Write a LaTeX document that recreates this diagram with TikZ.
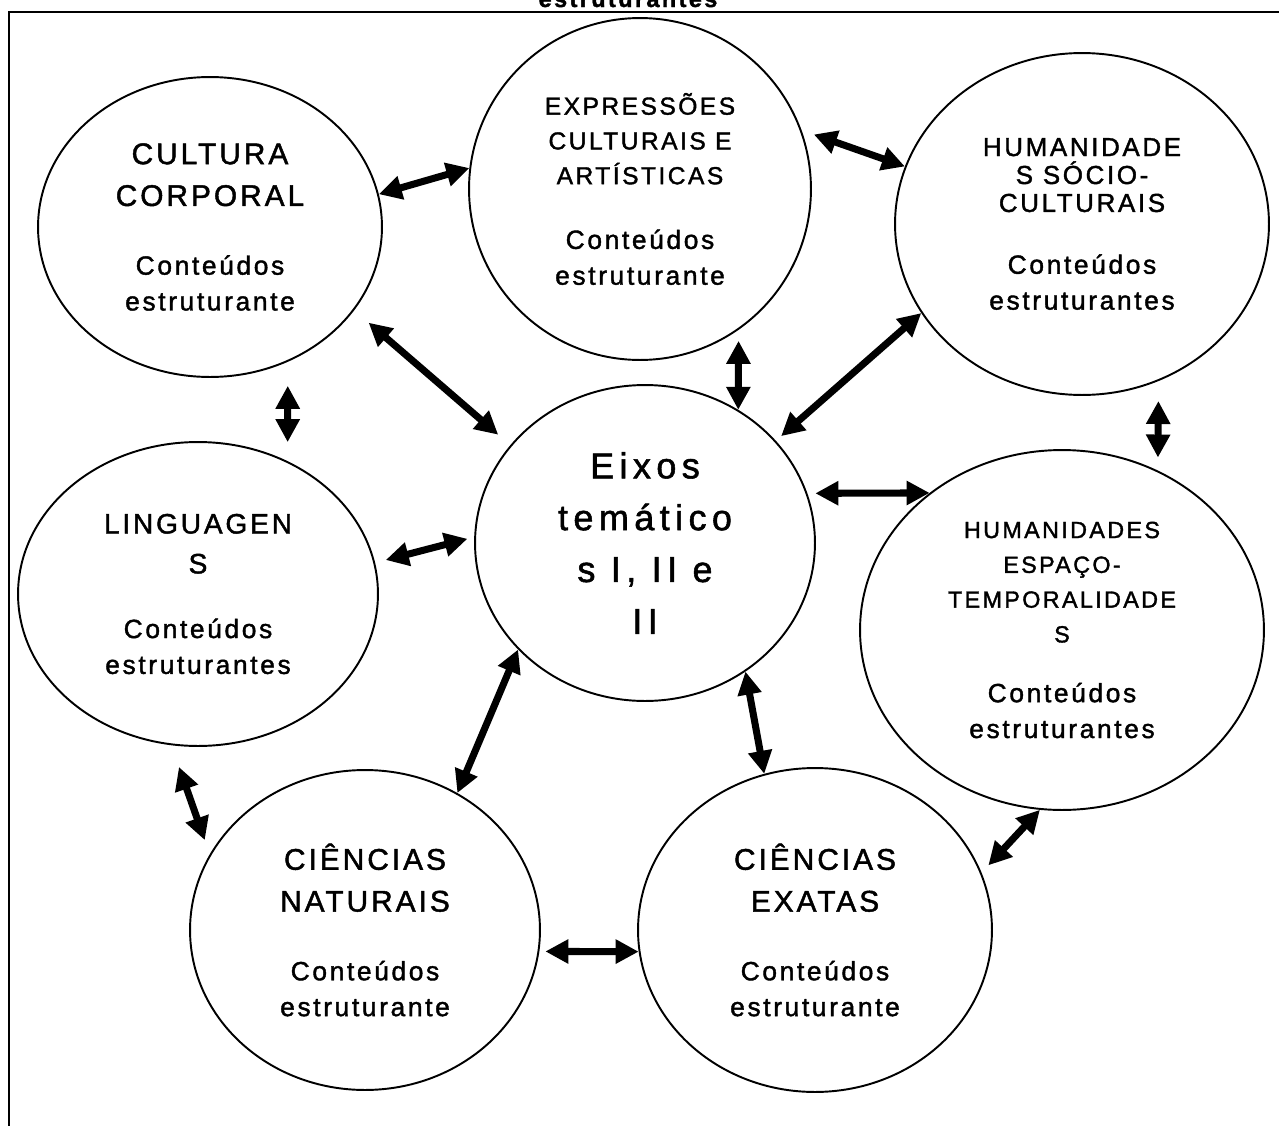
\documentclass[tikz,border=0pt]{standalone}
\usepackage{fontspec}
\setmainfont{Liberation Sans}[LetterSpace=10, FakeBold=1.5]
\def\corpo{\fontsize{15}{20.4}\selectfont}
\def\titA{\fontsize{17}{20}\selectfont}
\def\titB{\fontsize{14}{17}\selectfont}
\def\titC{\fontsize{14.8}{17}\selectfont}
\def\titD{\fontsize{16}{19}\selectfont}
\def\titE{\fontsize{13.3}{16}\selectfont}
\usepackage{tikz}
\usetikzlibrary{shapes,arrows.meta,positioning,calc}

\tikzset{
    eixo/.style={draw, ellipse, line width=1.1pt, inner sep=0pt, align=center, font=\corpo},
    seta/.style={line width=4pt, {Triangle[length=4.6mm,width=4.6mm]}-{Triangle[length=4.6mm,width=4.6mm]}}
}

\begin{document}
\begin{tikzpicture}[x=0.02cm, y=-0.02cm]
    \useasboundingbox (0,0) rectangle (1279,1126);
    \draw[line width=1.4pt] (9,1126) -- (9,12) -- (1279,12);
    \node[anchor=base, font=\bfseries\fontsize{13.4}{16}\selectfont] (titulo) at (628,7) {estruturantes};

    % os eixos
    \node[eixo, minimum width=6.88cm, minimum height=6cm] (CC) at (210,227)
        {{\titA CULTURA}\\[3.4pt]{\titA CORPORAL}\\[18.7pt]Conteúdos\\estruturante};
    \node[eixo, minimum width=6.84cm, minimum height=6.84cm] (EX) at (640,189)
        {{\titB EXPRESSÕES}\\[-0.6pt]{\titB CULTURAIS E}\\[-0.6pt]{\titB ARTÍSTICAS}\\[16.4pt]Conteúdos\\estruturante};
    \node[eixo, minimum width=7.48cm, minimum height=6.84cm] (HS) at (1082,224)
        {{\titC HUMANIDADE}\\[-4.5pt]{\titC S SÓCIO-}\\[-4.5pt]{\titC CULTURAIS}\\[14.8pt]Conteúdos\\estruturantes};
    \node[eixo, minimum width=7.2cm, minimum height=6.08cm] (LG) at (198,594)
        {{\titD LINGUAGEN}\\[2.3pt]{\titD S}\\[16.4pt]Conteúdos\\estruturantes};
    \node[eixo, minimum width=6.8cm, minimum height=6.32cm,
        font=\fontsize{20.5}{29.5}\selectfont\addfontfeature{LetterSpace=15}] (EI) at (645,543)
        {Eixos\\temático\\s I, II e\\II};
    \node[eixo, minimum width=8.08cm, minimum height=7.2cm] (HE) at (1062,630)
        {{\titE HUMANIDADES}\\[-0.6pt]{\titE ESPAÇO-}\\[-0.6pt]{\titE TEMPORALIDADE}\\[-0.6pt]{\titE S}\\[13.6pt]Conteúdos\\estruturantes};
    \node[eixo, minimum width=7cm, minimum height=6.4cm] (CN) at (365,930)
        {{\titA CIÊNCIAS}\\[3.4pt]{\titA NATURAIS}\\[18.7pt]Conteúdos\\estruturante};
    \node[eixo, minimum width=7.08cm, minimum height=6.48cm] (CE) at (815,930)
        {{\titA CIÊNCIAS}\\[3.4pt]{\titA EXATAS}\\[18.7pt]Conteúdos\\estruturante};

    % setas
    \draw[seta] (CC.11) -- (EX.173);
    \draw[seta, shorten <=0.26cm] (EX.20) -- (HS.162);
    \draw[seta, shorten <=0.38cm, shorten >=0.32cm] (CC.-30) -- (EI.144);
    \draw[seta, shorten <=0.22cm] (EX.-55) -- (EI.55);
    \draw[seta, shorten >=0.14cm] (HS.-151) -- (EI.38);
    \draw[seta, shorten <=0.48cm, shorten >=0.38cm] (CC.-60) -- (LG.56);
    \draw[seta, shorten <=0.4cm, shorten >=0.26cm] (HS.-64) -- (HE.59);
    \draw[seta, shorten <=0.16cm] (EI.17) -- (HE.134);
    \draw[seta, shorten <=0.22cm, shorten >=0.14cm] (LG.10) -- (EI.178);
    \draw[seta] (EI.-140) -- (CN.56);
    \draw[seta] (EI.-52) -- (CE.108);
    \draw[seta, shorten <=0.46cm, shorten >=0.3cm] (LG.-100) -- (CN.154);
    \draw[seta, shorten >=0.2cm] (HE.-97) -- (CE.19);
    \draw[seta, shorten <=0.12cm] (CN.-7) -- (CE.-173);
\end{tikzpicture}
\end{document}
